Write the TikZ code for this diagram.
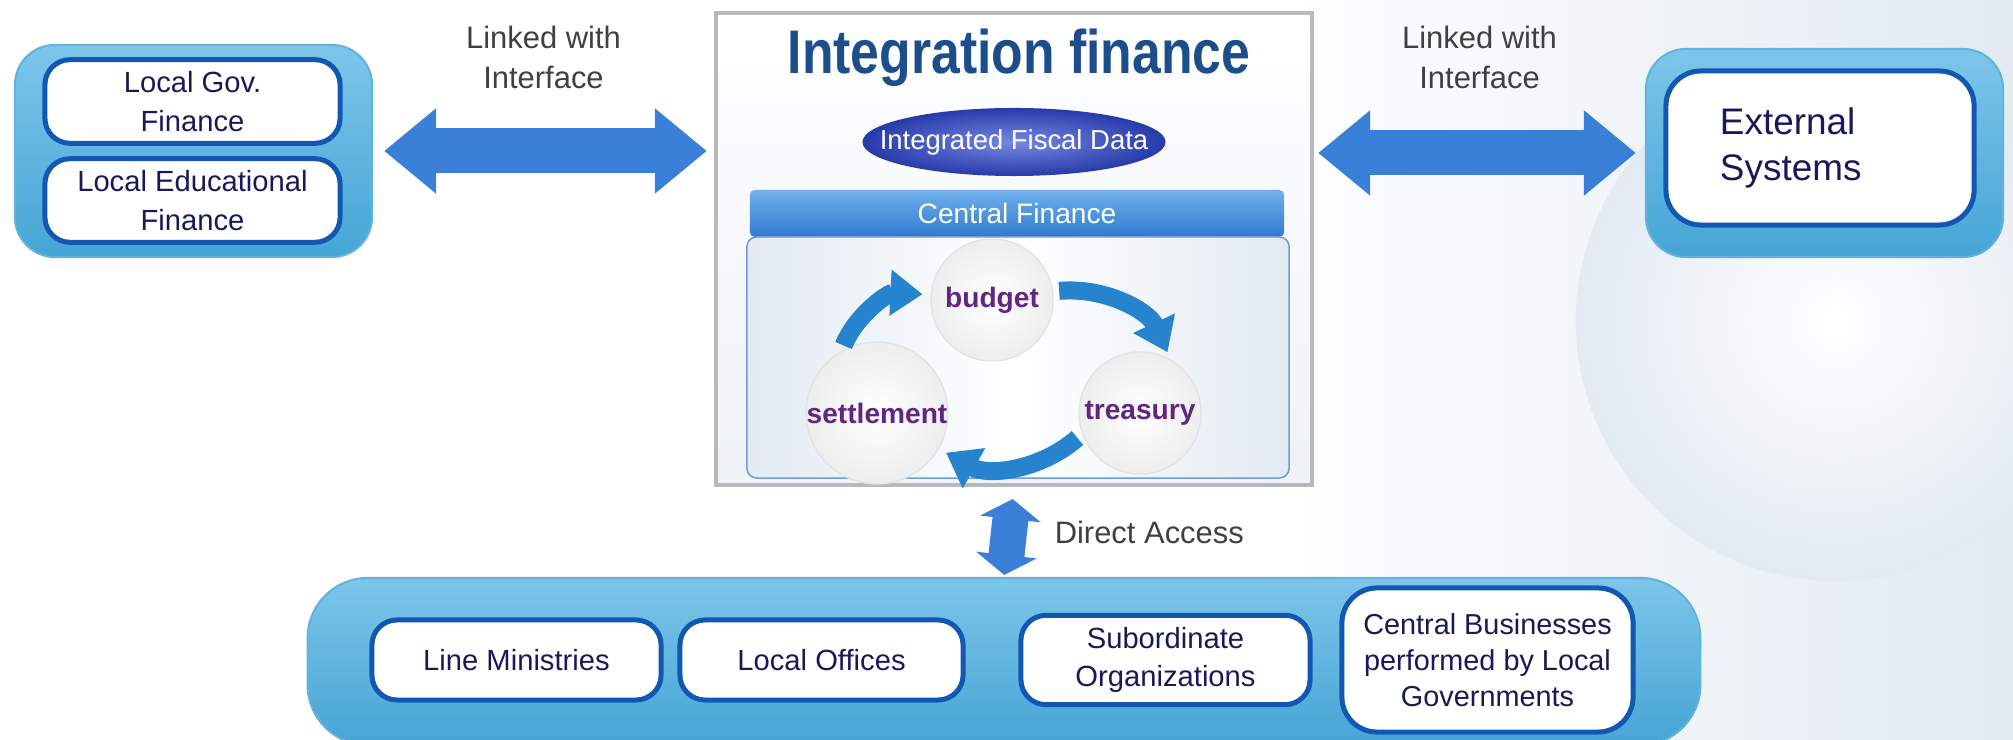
\documentclass[tikz,border=0pt]{standalone}
\usepackage{fontspec}
\setmainfont{Liberation Sans}
\newfontfamily\titlefont[FakeStretch=0.84]{Liberation Sans}
\usepackage{tikz}
\usetikzlibrary{positioning,calc,shapes.geometric,arrows.meta}
\definecolor{boxblue}{RGB}{70,165,214}
\definecolor{boxbluetop}{RGB}{125,198,234}
\definecolor{rimblue}{RGB}{18,88,178}
\definecolor{navy}{RGB}{25,25,90}
\definecolor{arrowblue}{RGB}{58,128,216}
\definecolor{titleblue}{RGB}{28,78,140}
\definecolor{fiscalblue}{RGB}{40,58,168}
\definecolor{fiscallight}{RGB}{118,136,228}
\definecolor{cfblue}{RGB}{48,122,208}
\definecolor{cfbluetop}{RGB}{112,176,236}
\definecolor{cycleblue}{RGB}{38,132,206}
\definecolor{cyclepurple}{RGB}{98,38,128}
\definecolor{bgblue}{RGB}{226,234,242}

\begin{document}
\begin{tikzpicture}[x=0.01cm,y=0.01cm,
		outerbox/.style={rounded corners=0.4cm,top color=boxbluetop,bottom color=boxblue,draw=boxblue!85!white,line width=0.02cm},
		innerbox/.style={rounded corners=0.25cm,draw=rimblue,line width=0.05cm,fill=white,align=center,text=navy,font=\fontsize{8.3}{11}\selectfont},
		fatarrow/.style={arrowblue,line width=0.45cm,{Triangle[width=0.82cm,length=0.52cm]}-{Triangle[width=0.82cm,length=0.52cm]}},
		linklabel/.style={align=center,text=black!75,font=\fontsize{8.8}{11.4}\selectfont},
		stage/.style={circle,minimum size=1.22cm,inner sep=0pt,shading=radial,inner color=white,outer color=gray!14,draw=gray!22,text=cyclepurple,font=\bfseries\fontsize{8}{10}\selectfont},
		cyclearrow/.style={cycleblue,line width=0.18cm,-{Triangle[width=0.44cm,length=0.32cm]},bend left=35,shorten <=0.06cm,shorten >=0.08cm}]
		
		% background
		\useasboundingbox (0,0) rectangle (2013,740);
		\fill[white] (0,0) rectangle (2013,740);
		\shade[left color=white,right color=bgblue] (1250,0) rectangle (2013,740);
		\shade[inner color=white,outer color=bgblue] (1836,419) circle (2.6cm);
		
		% left side
		\node[outerbox,minimum width=3.57cm,minimum height=2.12cm] (localside) at (193.5,589){};
		
		\node[innerbox,minimum width=2.95cm,minimum height=0.79cm] (localgov) at (192.5,638.5){Local Gov.\\Finance};
		
		\node[innerbox,minimum width=2.95cm,minimum height=0.81cm] (localedu) at (192.5,539.5){Local Educational\\Finance};
		
		% central block
		\node[draw=gray!55,line width=0.04cm,top color=white,bottom color=bgblue!60,minimum width=5.96cm,minimum height=4.72cm] (central) at (1014,491){};
		
		\node[text=titleblue,font=\titlefont\bfseries\fontsize{17.5}{20}\selectfont] (title) at (1019,682){Integration finance};
		
		\node[ellipse,shading=radial,inner color=fiscallight,outer color=fiscalblue,minimum height=0.68cm,inner xsep=-0.27cm,inner ysep=0pt,text=white,font=\fontsize{7.8}{9}\selectfont] (fiscal) at (1014,598){Integrated Fiscal Data};
		
		\node[rounded corners=0.05cm,top color=cfbluetop,bottom color=cfblue,minimum width=5.34cm,minimum height=0.47cm,text=white,font=\fontsize{8}{9}\selectfont] (centralfin) at (1017,526.5){Central Finance};
		
		\node[rounded corners=0.1cm,draw=rimblue!60,line width=0.015cm,left color=bgblue,right color=bgblue,middle color=white,minimum width=5.42cm,minimum height=2.41cm] (panel) at (1018,382.5){};
		
		\node[stage] (budget) at (992,440){budget};
		
		\node[stage] (treasury) at (1140,327){treasury};
		
		\node[stage] (settlement) at (877,327){settlement};
		
		\draw[cyclearrow] (settlement.120) to (budget.175);
		\draw[cyclearrow] (budget.8) to (treasury.60);
		\draw[cyclearrow] (treasury.200) to (settlement.-30);
		
		% right side
		\node[outerbox,minimum width=3.57cm,minimum height=2.08cm] (extside) at (1824.5,587){};
		
		\node[innerbox,rounded corners=0.35cm,minimum width=3.08cm,minimum height=1.54cm,text width=2.0cm,align=left,font=\fontsize{10.5}{13}\selectfont] (external) at (1820,592){External\\Systems};
		
		% users at the bottom
		\node[outerbox,rounded corners=0.6cm,minimum width=13.92cm,minimum height=1.67cm] (users) at (1004,78.5){};
		
		\node[innerbox,minimum width=2.89cm,minimum height=0.8cm] (ministries) at (516.5,80){Line Ministries};
		
		\node[innerbox,minimum width=2.83cm,minimum height=0.8cm] (offices) at (821.5,80){Local Offices};
		
		\node[innerbox,minimum width=2.89cm,minimum height=0.8cm] (subord) at (1165.5,80){Subordinate\\Organizations};
		
		\node[innerbox,rounded corners=0.35cm,minimum width=2.91cm,minimum height=1.44cm,font=\fontsize{8.2}{10.2}\selectfont] (business) at (1487.5,80){Central Businesses\\performed by Local\\Governments};
		
		% interfaces
		\draw[fatarrow,shorten <=0.11cm,shorten >=0.07cm] (localside.east) -- (localside.east -| central.west)node[midway,above=0.28cm,linklabel]{Linked with\\Interface};
		
		\draw[fatarrow,shorten <=0.04cm,shorten >=0.09cm] (central.east |- extside.west) -- (extside.west)node[midway,above=0.3cm,linklabel]{Linked with\\Interface};
		
		\draw[fatarrow,line width=0.36cm,{Triangle[width=0.6cm,length=0.2cm]}-{Triangle[width=0.6cm,length=0.2cm]},shorten <=0.12cm,shorten >=0.02cm] (central.south) -- (users.north)node[midway,right=0.16cm,linklabel]{Direct Access};
		
\end{tikzpicture}
\end{document}
